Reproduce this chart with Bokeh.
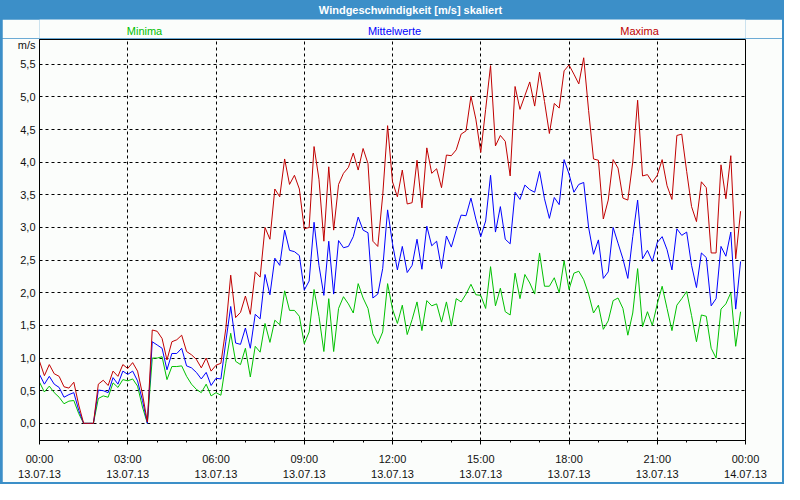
import pandas as pd
from bokeh.plotting import figure
from bokeh.layouts import column
from bokeh.models import Range1d, FixedTicker, CustomJSTickFormatter
from bokeh.core.properties import value
from bokeh.embed import file_html
from bokeh.resources import INLINE

# ---------------- data (10-minute values, 13.07.13) ----------------
times = pd.date_range("2013-07-13 00:00", periods=144, freq="10min")

maxima = [0.95, 0.73, 0.90, 0.76, 0.72, 0.56, 0.54, 0.63, 0.28, 0.00, 0.00, 0.00,
          0.60, 0.66, 0.58, 0.80, 0.72, 0.90, 0.84, 0.93, 0.80, 0.45, 0.02, 1.43,
          1.41, 1.30, 0.97, 1.25, 1.28, 1.35, 1.10, 1.05, 0.98, 0.85, 1.00, 0.80,
          0.89, 0.92, 1.45, 2.27, 1.62, 1.70, 1.95, 1.67, 2.32, 2.24, 3.00, 2.82,
          3.59, 3.47, 4.05, 3.66, 3.80, 3.59, 2.98, 3.00, 4.24, 3.74, 2.79, 3.93,
          2.96, 3.66, 3.83, 3.92, 4.14, 3.88, 4.21, 3.98, 2.79, 2.71, 3.49, 4.56,
          3.70, 3.47, 3.88, 3.36, 3.38, 4.03, 3.30, 4.22, 3.83, 3.90, 3.61, 4.11,
          4.10, 4.19, 4.43, 4.48, 5.01, 4.66, 4.15, 4.81, 5.48, 4.25, 4.41, 4.32,
          3.79, 5.16, 4.81, 5.02, 5.23, 4.86, 5.38, 4.93, 4.44, 4.90, 4.83, 5.40,
          5.49, 5.35, 5.20, 5.60, 4.79, 4.05, 4.03, 3.13, 3.42, 4.04, 3.91, 3.45,
          3.42, 4.00, 4.95, 3.79, 3.81, 3.69, 3.80, 4.04, 3.64, 3.43, 4.41, 4.43,
          3.86, 3.32, 3.09, 3.70, 3.61, 2.61, 2.61, 3.96, 3.44, 4.10, 2.52, 3.25]

mittelwerte = [0.75, 0.60, 0.72, 0.60, 0.55, 0.40, 0.44, 0.47, 0.20, 0.00, 0.00, 0.00,
               0.51, 0.50, 0.47, 0.70, 0.60, 0.80, 0.75, 0.80, 0.65, 0.35, 0.00, 1.25,
               1.20, 1.15, 0.82, 1.07, 1.07, 1.15, 0.88, 0.85, 0.78, 0.68, 0.78, 0.58,
               0.69, 0.68, 1.25, 1.79, 1.23, 1.21, 1.46, 1.15, 1.67, 1.60, 2.28, 1.97,
               2.53, 2.42, 2.96, 2.65, 2.63, 2.57, 2.04, 2.18, 3.08, 2.42, 1.96, 2.79,
               1.98, 2.80, 2.69, 2.71, 2.86, 3.16, 2.96, 2.92, 1.92, 1.98, 2.37, 3.27,
               2.75, 2.35, 2.71, 2.31, 2.42, 2.82, 2.36, 3.02, 2.72, 2.79, 2.37, 2.87,
               2.70, 2.96, 3.19, 3.18, 3.45, 3.13, 2.86, 3.10, 3.80, 2.93, 3.32, 2.82,
               2.75, 3.54, 3.43, 3.65, 3.58, 3.54, 3.86, 3.44, 3.14, 3.46, 3.35, 4.04,
               3.82, 3.54, 3.66, 3.69, 3.00, 2.59, 2.81, 2.22, 2.32, 3.00, 2.76, 2.52,
               2.22, 2.86, 3.42, 2.52, 2.65, 2.48, 2.77, 2.86, 2.66, 2.35, 2.98, 2.88,
               2.93, 2.42, 2.08, 2.61, 2.54, 1.80, 1.91, 2.71, 2.56, 2.93, 1.75, 2.48]

minima = [0.63, 0.48, 0.57, 0.47, 0.40, 0.30, 0.34, 0.35, 0.15, 0.00, 0.00, 0.00,
          0.38, 0.42, 0.40, 0.62, 0.55, 0.67, 0.65, 0.68, 0.57, 0.25, 0.00, 1.00,
          1.00, 1.02, 0.67, 0.87, 0.87, 0.88, 0.72, 0.60, 0.52, 0.47, 0.60, 0.42,
          0.47, 0.43, 0.92, 1.38, 0.95, 0.90, 1.15, 0.71, 1.18, 1.09, 1.53, 1.24,
          1.58, 1.51, 2.03, 1.73, 1.73, 1.64, 1.22, 1.40, 2.05, 1.64, 1.10, 1.91,
          1.10, 1.76, 1.94, 1.83, 1.69, 2.14, 1.92, 1.76, 1.37, 1.22, 1.40, 2.14,
          1.75, 1.53, 1.81, 1.36, 1.59, 1.86, 1.42, 1.88, 1.80, 1.83, 1.55, 1.86,
          1.49, 1.91, 1.86, 1.98, 2.13, 1.97, 1.96, 1.76, 2.40, 1.80, 2.07, 1.71,
          1.66, 2.30, 1.91, 2.28, 2.15, 1.98, 2.61, 2.10, 2.10, 2.23, 2.00, 2.49,
          2.05, 2.30, 2.33, 2.20, 1.98, 1.69, 1.81, 1.44, 1.57, 1.88, 1.92, 1.76,
          1.35, 1.69, 2.37, 1.48, 1.71, 1.50, 1.83, 2.10, 1.76, 1.42, 1.81, 1.91,
          2.02, 1.65, 1.25, 1.66, 1.64, 1.15, 1.00, 1.75, 1.83, 2.00, 1.18, 1.71]

y_ticks = [0.0, 0.5, 1.0, 1.5, 2.0, 2.5, 3.0, 3.5, 4.0, 4.5, 5.0, 5.5]
x_major_hours = [0, 3, 6, 9, 12, 15, 18, 21, 24]
x_minor_hours = list(range(0, 25))

title_text = "Windgeschwindigkeit [m/s] skaliert"
series_names = ["Minima", "Mittelwerte", "Maxima"]
unit_text = "m/s"
unit_pos = 5.79          # vertical place of the unit label on the value scale

# ---------------- styling ----------------
BG = "#fbfdfb"
FRAME_BLUE = "#3c8fc8"
GREEN = "#00c000"
BLUE = "#0000ff"
RED = "#c00000"
FONT = "Liberation Sans"
TXT = "#111111"

W = 780
BAR_H = 19
LEG_H = 19
MAIN_H = 444
SIDE = 37   # left / right border of every panel, so frames line up


def strip(height, color):
    f = figure(width=W, height=height, output_backend="svg", toolbar_location=None,
               x_range=Range1d(SIDE, W - SIDE), y_range=Range1d(0, height),
               x_axis_location=None, y_axis_location=None,
               min_border_left=SIDE, min_border_right=SIDE,
               min_border_top=0, min_border_bottom=0,
               background_fill_color=color, border_fill_color=color)
    f.outline_line_color = None
    f.xgrid.visible = False
    f.ygrid.visible = False
    return f


# ---------------- title bar ----------------
bar = strip(BAR_H, FRAME_BLUE)
bar.text(x=[408], y=[BAR_H / 2], text=[title_text], text_align="center",
         text_baseline="middle", text_color="white", text_font=value(FONT),
         text_font_size="11px", text_font_style="bold")

# ---------------- series names ----------------
leg = strip(LEG_H, BG)
leg.text(x=[142, 392, 637], y=[LEG_H / 2 - 2] * 3, text=series_names,
         text_align="center", text_baseline="middle",
         text_color=[GREEN, BLUE, RED], text_font=value(FONT), text_font_size="11px")

# ---------------- main chart ----------------
start = pd.Timestamp("2013-07-13 00:00")
end = pd.Timestamp("2013-07-14 00:00")
ms0 = start.value // 10**6
major_ms = [ms0 + h * 3600000 for h in x_major_hours]
minor_ms = [ms0 + h * 3600000 for h in x_minor_hours]

p = figure(width=W, height=MAIN_H, x_axis_type="datetime",
           output_backend="svg", toolbar_location=None,
           x_range=Range1d(start, end), y_range=Range1d(-0.263, 5.88),
           min_border_left=SIDE, min_border_right=SIDE,
           min_border_top=1, min_border_bottom=37,
           background_fill_color=BG, border_fill_color=BG)

p.outline_line_color = "black"
p.outline_line_width = 1

xt = FixedTicker(ticks=major_ms, minor_ticks=minor_ms)
yt_grid = FixedTicker(ticks=y_ticks, minor_ticks=[])
yt_axis = FixedTicker(ticks=y_ticks + [unit_pos], minor_ticks=[])

p.xaxis.ticker = xt
p.yaxis.ticker = yt_axis
p.xaxis.formatter = CustomJSTickFormatter(code="""
const d = new Date(tick);
const pad = (n) => String(n).padStart(2, '0');
return pad(d.getUTCHours()) + ':' + pad(d.getUTCMinutes()) + '\\n' +
       pad(d.getUTCDate()) + '.' + pad(d.getUTCMonth() + 1) + '.' +
       String(d.getUTCFullYear()).slice(2);
""")
p.yaxis.formatter = CustomJSTickFormatter(
    args=dict(unit=unit_text, upos=unit_pos),
    code="if (Math.abs(tick - upos) < 1e-6) { return unit; } "
         "return tick.toFixed(1).replace('.', ',');")

for ax in (p.xaxis[0], p.yaxis[0]):
    ax.axis_line_color = "black"
    ax.major_label_text_font = FONT
    ax.major_label_text_font_size = "11px"
    ax.major_label_text_color = TXT

p.xaxis.major_tick_out = 4
p.xaxis.major_tick_in = 0
p.xaxis.minor_tick_out = 2
p.xaxis.minor_tick_in = 0
p.xaxis.major_tick_line_color = "black"
p.xaxis.minor_tick_line_color = "black"
p.xaxis.major_label_standoff = 8
p.xaxis.major_label_text_line_height = 1.25

p.yaxis.major_tick_out = 0
p.yaxis.major_tick_in = 0
p.yaxis.minor_tick_out = 0
p.yaxis.minor_tick_in = 0
p.yaxis.major_label_standoff = 4

p.xgrid.ticker = xt
p.ygrid.ticker = yt_grid
for g in (p.xgrid[0], p.ygrid[0]):
    g.grid_line_color = "black"
    g.grid_line_dash = "3 3"
    g.grid_line_width = 1

p.line(times, minima, line_color=GREEN, line_width=1)
p.line(times, mittelwerte, line_color=BLUE, line_width=1)
p.line(times, maxima, line_color=RED, line_width=1)

layout = column(bar, leg, p, spacing=0,
                styles={"background-color": FRAME_BLUE,
                        "padding": "0px 2px 2px 2px"})

open("out.html", "w").write(file_html(layout, INLINE))
